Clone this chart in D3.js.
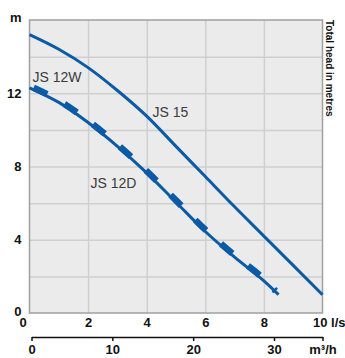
<!DOCTYPE html>
<html><head><meta charset="utf-8">
<script src="https://cdn.jsdelivr.net/npm/d3@7"></script>
<style>
html,body{margin:0;padding:0;background:#fff;}
svg{display:block;}
</style></head>
<body>
<script>
// ---- data ----
const flowLs = [0,1,2,3,4,5,6,7,8,9,10];
const headJS15 = [15.2,14.4,13.4,12.15,10.75,9.1,7.45,5.8,4.2,2.6,1.0];
const flowJS12W = [0,1,2,3,4,5,6,7,8,8.5];
const headJS12W = [12.3,11.5,10.4,9.1,7.65,6.05,4.45,3.05,1.75,1.0];
const flowJS12D = [0,1,2,3,4,5,6,7,8,8.4];
const headJS12D = [12.4,11.6,10.5,9.2,7.75,6.15,4.55,3.15,1.85,1.2];
const yTickValues = [0,4,8,12,16];
const yTickLabels = ["0","4","8","12","m"];
const xTickValues = [0,2,4,6,8,10];
const xTickLabels = ["0","2","4","6","8","10 l/s"];
const m3hTickValues = [0,10,20,30,36];
const m3hTickLabels = ["0","10","20","30","m³/h"];
const seriesNames = ["JS 12W","JS 15","JS 12D"];
const sideTitle = "Total head in metres";

const W = 345, H = 358;
const blue = "#0b5aa6";
const svg = d3.select("body").append("svg").attr("width",W).attr("height",H);

const x = d3.scaleLinear().domain([0,10]).range([29.5,322.5]);
const y = d3.scaleLinear().domain([0,16]).range([313,20]);
const x2 = d3.scaleLinear().domain([0,36]).range([31.5,322.5]);

// plot background
svg.append("rect").attr("x",x(0)).attr("y",y(16)).attr("width",x(10)-x(0)).attr("height",y(0)-y(16)).attr("fill","#ebebeb");

// grid
const gx = svg.append("g").attr("transform",`translate(0,${y(0)})`)
  .call(d3.axisBottom(x).tickValues([2,4,6,8]).tickSize(-(y(0)-y(16))).tickFormat(""));
gx.select(".domain").remove();
gx.selectAll("line").attr("stroke","#cfcfcf").attr("stroke-width",1.5);
const gy = svg.append("g").attr("transform",`translate(${x(0)},0)`)
  .call(d3.axisLeft(y).tickValues([2,4,6,8,10,12,14]).tickSize(-(x(10)-x(0))).tickFormat(""));
gy.select(".domain").remove();
gy.selectAll("line").attr("stroke","#cfcfcf").attr("stroke-width",1.5);

// border
svg.append("rect").attr("x",x(0)).attr("y",y(16)).attr("width",x(10)-x(0)).attr("height",y(0)-y(16))
  .attr("fill","none").attr("stroke","#a0a0a0").attr("stroke-width",1.5);

// curves
const line = d3.line().x(d=>x(d[0])).y(d=>y(d[1])).curve(d3.curveMonotoneX);
const curves = svg.append("g");
curves.append("path").datum(flowLs.map((q,i)=>[q,headJS15[i]])).attr("d",line)
  .attr("fill","none").attr("stroke",blue).attr("stroke-width",3);
curves.append("path").datum(flowJS12W.map((q,i)=>[q,headJS12W[i]])).attr("d",line)
  .attr("fill","none").attr("stroke",blue).attr("stroke-width",3);
curves.append("path").datum(flowJS12D.map((q,i)=>[q,headJS12D[i]])).attr("d",line)
  .attr("fill","none").attr("stroke",blue).attr("stroke-width",6.5)
  .attr("stroke-dasharray","15,20").attr("stroke-dashoffset",30.5);

// series labels
const lab = svg.append("g").attr("font-family","Liberation Sans, Arial, sans-serif").attr("font-size",14).attr("fill","#3c3c3c");
lab.append("text").attr("x",x(0.1)).attr("y",y(12.6)).text(seriesNames[0]);
lab.append("text").attr("x",x(4.2)).attr("y",y(10.7)).text(seriesNames[1]);
lab.append("text").attr("x",x(2.08)).attr("y",y(6.8)).text(seriesNames[2]);

// y axis labels
const ya = svg.append("g").attr("transform",`translate(${x(0)},0)`)
  .call(d3.axisLeft(y).tickValues(yTickValues).tickSize(0).tickPadding(8)
    .tickFormat((d,i)=>yTickLabels[i]));
ya.select(".domain").remove();
ya.selectAll("text").attr("font-family","Liberation Sans, Arial, sans-serif").attr("font-weight","bold")
  .attr("font-size",13).attr("fill","#111");
ya.selectAll(".tick").filter(d=>d===16).select("text").attr("dy","0.1em");
ya.selectAll(".tick").filter(d=>d===0).select("text").attr("dy","0.2em");

// x axis labels (l/s)
const xa = svg.append("g").attr("transform",`translate(0,${y(0)})`)
  .call(d3.axisBottom(x).tickValues(xTickValues).tickSize(0).tickPadding(5)
    .tickFormat((d,i)=>xTickLabels[i]));
xa.select(".domain").remove();
xa.selectAll("text").attr("font-family","Liberation Sans, Arial, sans-serif").attr("font-weight","bold")
  .attr("font-size",13).attr("fill","#111");
xa.selectAll(".tick").filter(d=>d===0).select("text").attr("dx",-7);
xa.selectAll(".tick").filter(d=>d===10).select("text").attr("text-anchor","start").attr("dx",-10);

// secondary axis (m3/h)
const x2a = svg.append("g").attr("transform",`translate(0,337)`)
  .call(d3.axisBottom(x2).tickValues(m3hTickValues).tickSize(4).tickSizeOuter(0).tickPadding(4)
    .tickFormat((d,i)=>m3hTickLabels[i]));
x2a.select(".domain").attr("stroke","#111").attr("stroke-width",1.5);
x2a.selectAll("line").attr("stroke","#111").attr("stroke-width",1.5);
x2a.selectAll("text").attr("font-family","Liberation Sans, Arial, sans-serif").attr("font-weight","bold")
  .attr("font-size",13).attr("fill","#111");

// side title
svg.append("text").attr("transform",`translate(326,${y(16)}) rotate(90)`)
  .attr("font-family","Liberation Sans, Arial, sans-serif").attr("font-weight","bold")
  .attr("font-size",10).attr("fill","#111").text(sideTitle);
</script>
</body></html>
